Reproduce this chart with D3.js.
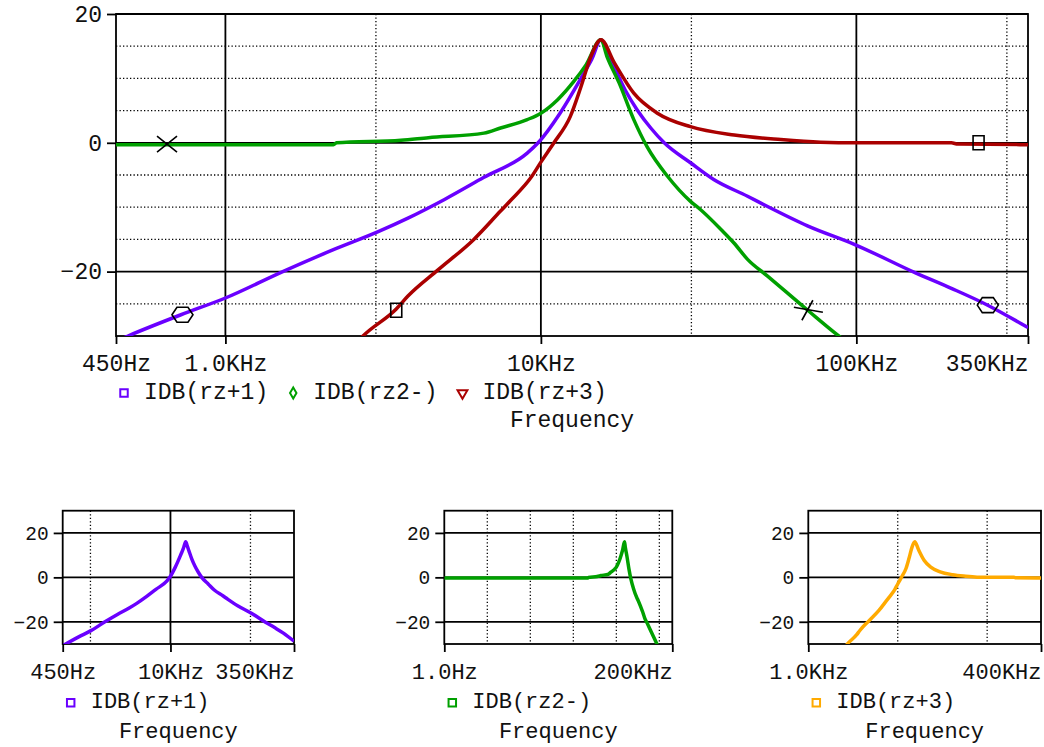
<!DOCTYPE html>
<html><head>
<meta charset="utf-8">
<script src="https://cdn.jsdelivr.net/npm/d3@7"></script>
<style>
  body { margin: 0; background: #fff; }
  svg text { font-family: "Liberation Mono", "Courier New", monospace; fill: #111; }
</style>
</head><body>
<script>
// traces (Hz, dB)
var rz1Freq = [450, 491, 723, 1000, 1520, 2200, 3050, 3790, 4950, 6580, 9050, 9800, 11500, 13500, 14500, 15500, 16200, 17060, 18500, 20200, 22300, 24600, 29800, 35300, 45200, 52300, 70000, 98900, 154000, 200000, 258000, 350000];
var rz1Db   = [-30.8, -30, -26.7, -24.1, -20, -16.6, -13.8, -11.7, -8.8, -5.4, -1.6, 0, 4.6, 10.3, 13, 16, 14.2, 11.8, 8.2, 5.1, 2.3, 0, -3.1, -5.7, -8.3, -9.9, -12.9, -15.8, -20.2, -22.6, -25.1, -28.7];

var rz2Freq = [1, 450, 2200, 2250, 3600, 4400, 6600, 7450, 9050, 10000, 11300, 12700, 13900, 15500, 16200, 17700, 19700, 21700, 25200, 29800, 32100, 37300, 41000, 45200, 52300, 70100, 87500, 100000];
var rz2Db   = [-0.3, -0.3, -0.3, 0, 0.4, 0.8, 1.5, 2.3, 3.6, 4.6, 6.7, 9.5, 12.1, 16, 13.4, 9.3, 3.6, -0.6, -5.2, -9.1, -10.4, -13.5, -15.6, -18.1, -20.7, -26, -29.9, -32];

var rz3Freq = [2500, 2730, 3480, 3790, 4730, 6130, 7450, 8000, 9300, 10000, 11000, 12400, 13400, 14400, 15500, 17100, 19700, 23400, 29800, 41000, 57600, 77000, 100000, 200000, 210000, 400000];
var rz3Db   = [-32, -30, -25.8, -23.8, -19.7, -15, -10.6, -9.0, -5.4, -3.0, 0, 4.1, 8.7, 13.4, 16, 12.4, 7.7, 4.6, 2.5, 1.2, 0.5, 0.1, 0, 0, -0.2, -0.3];

var traceNames = ["IDB(rz+1)", "IDB(rz2-)", "IDB(rz+3)"];

// trace markers on the big plot
var mkFreq  = [653, 731, 3480, 70200, 244000, 261000];
var mkDb    = [-0.2, -26.7, -26, -26, 0, -25.2];
var mkShape = ["x", "hex", "sq", "star", "sq", "hex"];

var mainXTicks  = [450, 1000, 10000, 100000, 350000];
var mainXLabels = ["450Hz", "1.0KHz", "10KHz", "100KHz", "350KHz"];
var smallYTicks = [20, 0, -20];

var svg = d3.select("body").append("svg").attr("width", 1044).attr("height", 747);

var shapes = {
  x:    "M-10,-8L10,8M-10,8L10,-8",
  sq:   "M-5.5,-7H5.5V7H-5.5Z",
  hex:  "M-10.5,0L-5.5,-7.5H5.5L10.5,0L5.5,7.5H-5.5Z",
  star: "M-14,-3L15,2M-6,10L5,-10"
};

function plot(o) {
  var g = svg.append("g");
  var x = d3.scaleLog().domain(o.xDomain).range([o.left, o.right]);
  var y = d3.scaleLinear().domain(o.yDomain).range([o.bottom, o.top]);

  // dotted grid
  g.selectAll(null).data(o.xDotted).join("line")
    .attr("x1", d => x(d)).attr("x2", d => x(d)).attr("y1", o.top).attr("y2", o.bottom)
    .attr("stroke", "#000").attr("stroke-width", 1.3).attr("stroke-dasharray", "1.3,2.2");
  g.selectAll(null).data(o.yDotted).join("line")
    .attr("y1", d => y(d)).attr("y2", d => y(d)).attr("x1", o.left).attr("x2", o.right)
    .attr("stroke", "#000").attr("stroke-width", 1.3).attr("stroke-dasharray", "1.3,2.2");
  // solid grid
  g.selectAll(null).data(o.xSolid).join("line")
    .attr("x1", d => x(d)).attr("x2", d => x(d)).attr("y1", o.top).attr("y2", o.bottom)
    .attr("stroke", "#000").attr("stroke-width", 1.8);
  g.selectAll(null).data(o.yTicks).join("line")
    .attr("y1", d => y(d)).attr("y2", d => y(d)).attr("x1", o.left).attr("x2", o.right)
    .attr("stroke", "#000").attr("stroke-width", 1.8);
  g.append("rect").attr("x", o.left).attr("y", o.top)
    .attr("width", o.right - o.left).attr("height", o.bottom - o.top)
    .attr("fill", "none").attr("stroke", "#000").attr("stroke-width", 1.8);

  // axes
  var ax = g.append("g").attr("transform", "translate(0," + o.bottom + ")")
    .call(d3.axisBottom(x).tickValues(o.xTicks).tickFormat((d, i) => o.xLabels[i]).tickSize(8));
  ax.select(".domain").remove();
  ax.selectAll("line").attr("stroke", "#000").attr("stroke-width", 1.8);
  ax.selectAll("text").attr("y", 35).attr("dy", null)
    .style("font-size", o.xFont + "px").attr("font-family", null);
  ax.selectAll(".tick:last-of-type text").attr("text-anchor", "end");

  var ay = g.append("g").attr("transform", "translate(" + o.left + ",0)")
    .call(d3.axisLeft(y).tickValues(o.yTicks).tickSize(9));
  ay.select(".domain").remove();
  ay.selectAll("line").attr("stroke", "#000").attr("stroke-width", 1.8);
  ay.selectAll("text").attr("x", -14).attr("dy", "0.32em")
    .style("font-size", o.yFont + "px").attr("font-family", null);

  // traces
  var cid = "clip" + o.id;
  svg.append("clipPath").attr("id", cid).append("rect")
    .attr("x", o.left).attr("y", o.top).attr("width", o.right - o.left).attr("height", o.bottom - o.top);
  var line = d3.line().x(d => x(d[0])).y(d => y(d[1])).curve(d3.curveMonotoneX);
  var tg = g.append("g").attr("clip-path", "url(#" + cid + ")");
  o.traces.forEach(function(t) {
    tg.append("path").datum(d3.zip(t.f, t.db)).attr("d", line)
      .attr("fill", "none").attr("stroke", t.color).attr("stroke-width", 3.5)
      .attr("stroke-linejoin", "round");
  });

  if (o.markers) {
    g.selectAll(null).data(d3.range(mkFreq.length)).join("path")
      .attr("transform", i => "translate(" + x(mkFreq[i]) + "," + y(mkDb[i]) + ")")
      .attr("d", i => shapes[mkShape[i]])
      .attr("fill", "none").attr("stroke", "#000").attr("stroke-width", 1.6);
  }

  // legend
  var lx = o.left + 8, ly = o.bottom + o.legDy;
  o.traces.forEach(function(t) {
    g.append("path").attr("transform", "translate(" + lx + "," + ly + ")" + (t.sym === "tri" ? " rotate(180)" : ""))
      .attr("d", d3.symbol().type(t.sym === "dia" ? d3.symbolDiamond : t.sym === "tri" ? d3.symbolTriangle : d3.symbolSquare).size(t.sym === "tri" ? 42 : t.sym === "dia" ? 36 : 56)())
      .attr("fill", "none").attr("stroke", t.color).attr("stroke-width", 2);
    var tx = g.append("text").attr("x", lx + 20).attr("y", ly + 5.5)
      .style("font-size", o.xFont + "px").text(t.name);
    lx = lx + 20 + tx.node().getComputedTextLength() + 25;
  });
  g.append("text").attr("x", (o.left + o.right) / 2).attr("y", o.bottom + o.freqDy)
    .attr("text-anchor", "middle").style("font-size", o.xFont + "px").text("Frequency");
}

plot({
  id: 0, left: 116, right: 1028, top: 14, bottom: 336,
  xDomain: [450, 350000], yDomain: [-30, 20],
  xSolid: [1000, 10000, 100000], xDotted: [3000, 30000, 300000],
  yTicks: [20, 0, -20], yDotted: [15, 10, 5, -5, -10, -15, -25],
  xTicks: mainXTicks, xLabels: mainXLabels, xFont: 23, yFont: 23,
  legDy: 57, freqDy: 91, markers: true,
  traces: [
    { f: rz1Freq, db: rz1Db, color: "#6a00ff", name: traceNames[0], sym: "sq" },
    { f: rz2Freq, db: rz2Db, color: "#00a000", name: traceNames[1], sym: "dia" },
    { f: rz3Freq, db: rz3Db, color: "#aa0000", name: traceNames[2], sym: "tri" }
  ]
});

var smallBase = { top: 510.7, bottom: 644, yDomain: [-30, 30], yTicks: smallYTicks, yDotted: [],
  xFont: 22, yFont: 19.5, legDy: 58.7, freqDy: 94 };

plot(Object.assign({}, smallBase, {
  id: 1, left: 62.7, right: 294, xDomain: [450, 350000],
  xSolid: [10000], xDotted: [1000, 100000],
  xTicks: [450, 10000, 350000], xLabels: ["450Hz", "10KHz", "350KHz"],
  traces: [{ f: rz1Freq, db: rz1Db, color: "#6a00ff", name: traceNames[0], sym: "sq" }]
}));
plot(Object.assign({}, smallBase, {
  id: 2, left: 444.3, right: 672.3, xDomain: [1, 200000],
  xSolid: [], xDotted: [10, 100, 1000, 10000, 100000],
  xTicks: [1, 200000], xLabels: ["1.0Hz", "200KHz"],
  traces: [{ f: rz2Freq, db: rz2Db, color: "#00a000", name: traceNames[1], sym: "sq" }]
}));
plot(Object.assign({}, smallBase, {
  id: 3, left: 808.3, right: 1041, xDomain: [1000, 400000],
  xSolid: [], xDotted: [10000, 100000],
  xTicks: [1000, 400000], xLabels: ["1.0KHz", "400KHz"],
  traces: [{ f: rz3Freq, db: rz3Db, color: "#ffaa00", name: traceNames[2], sym: "sq" }]
}));
</script>
</body></html>
